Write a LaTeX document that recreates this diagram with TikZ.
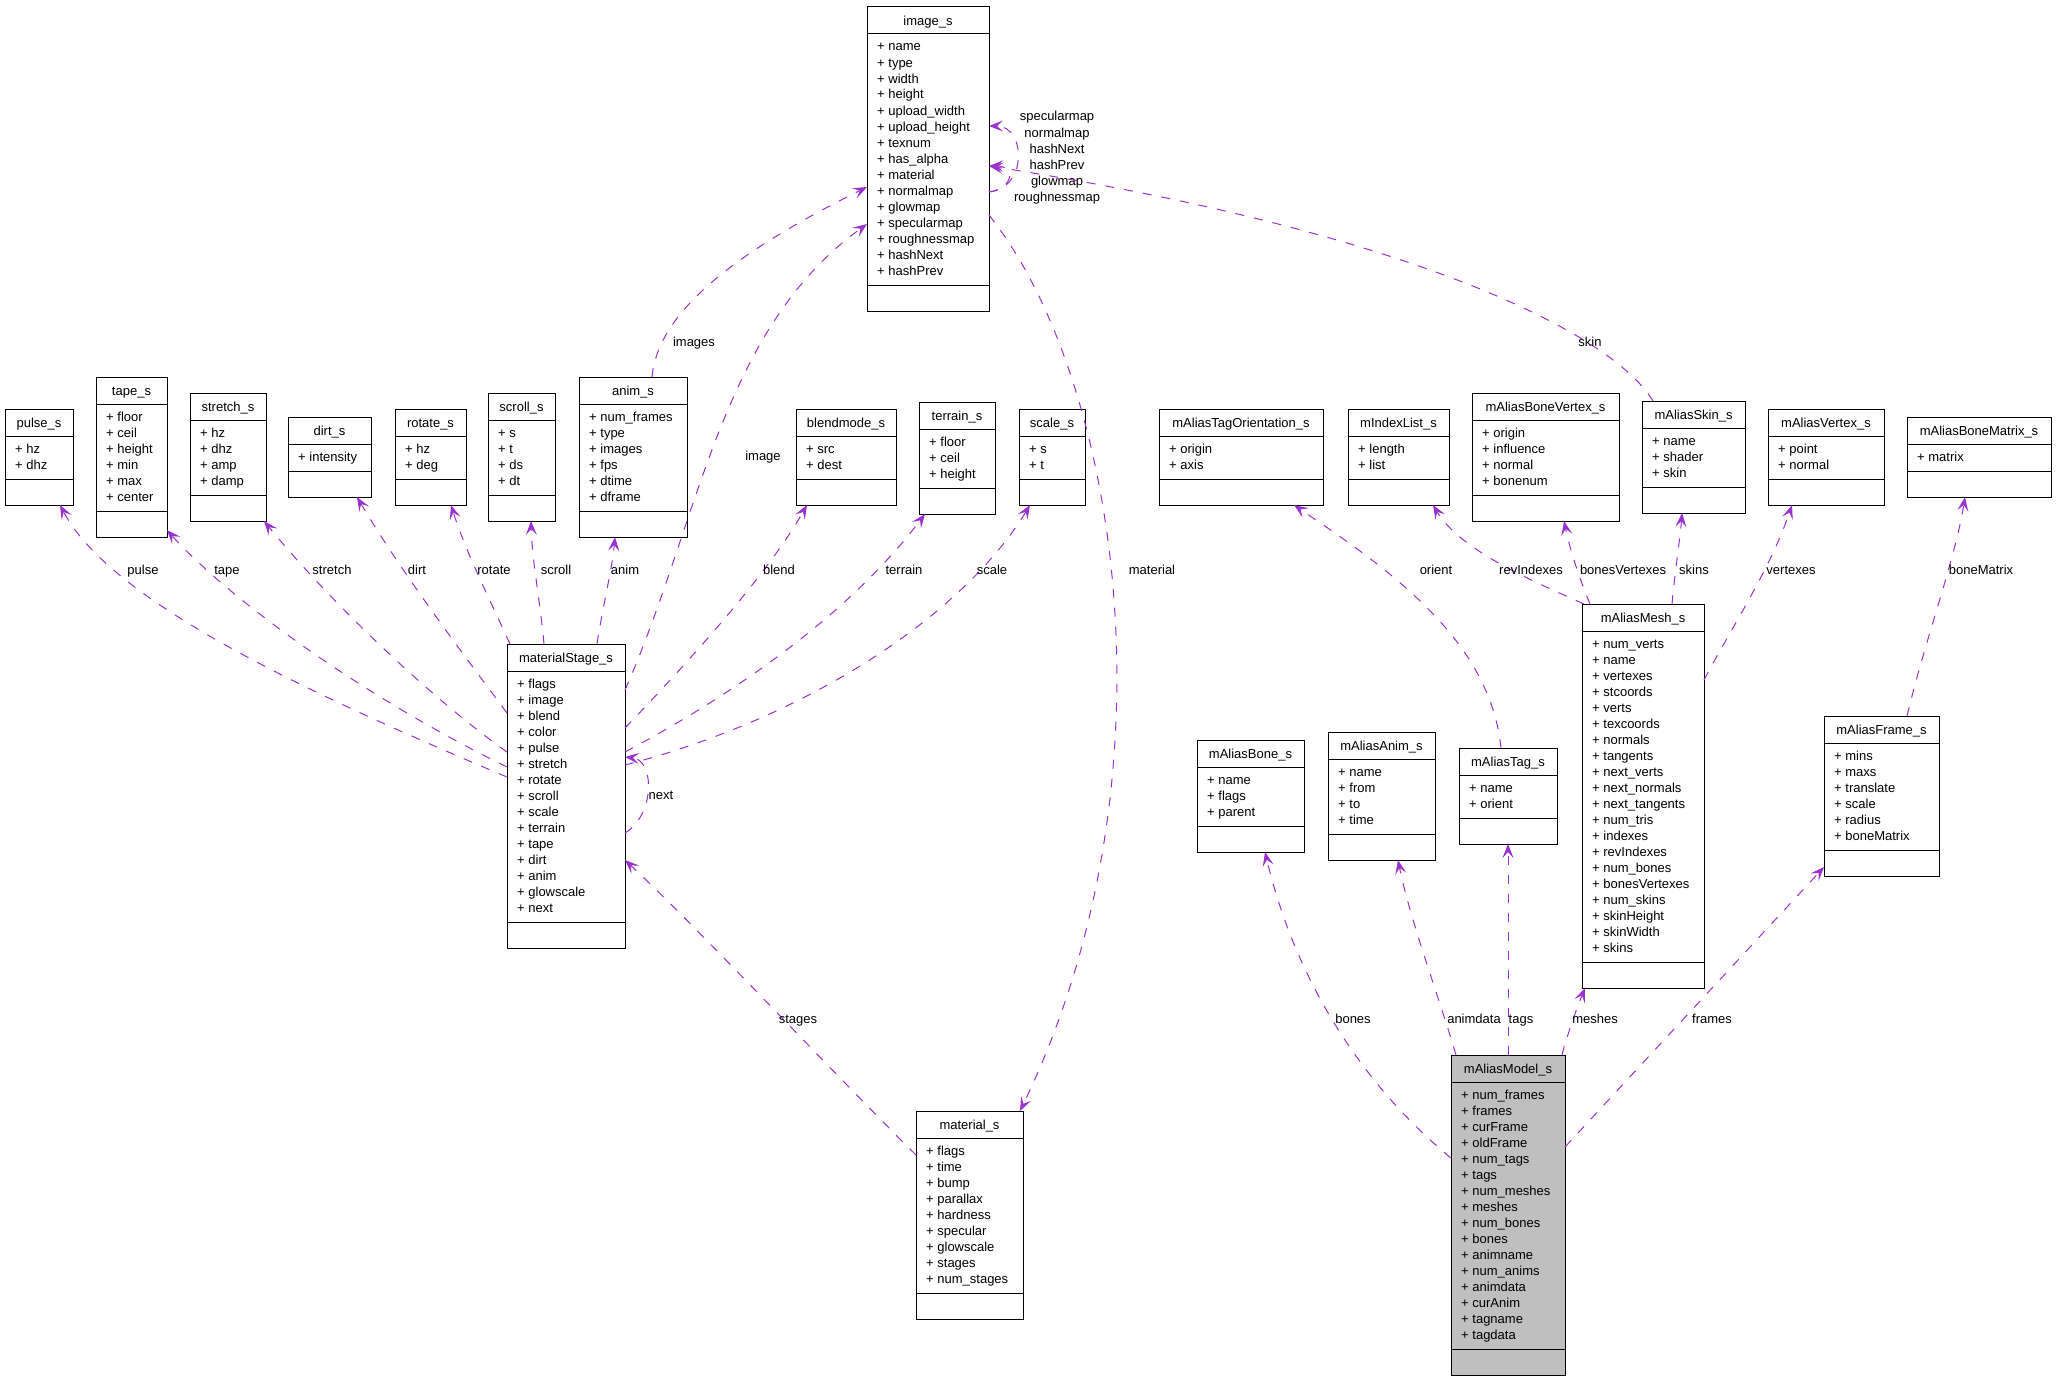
\documentclass[tikz,border=0pt]{standalone}
\usepackage{fontspec}
\setmainfont{Liberation Sans}
\usetikzlibrary{arrows.meta}
\definecolor{relcol}{HTML}{9A32CD}
\definecolor{modelgray}{HTML}{BFBFBF}
\tikzset{
  classbox/.style={draw=black, line width=1pt, inner sep=0pt, outer sep=0pt, anchor=north west},
  sepline/.style={draw=black, line width=1pt},
  lbl/.style={font=\fontsize{13}{16}\selectfont, inner sep=0pt},
  rel/.style={draw=relcol, line width=1pt, dash pattern=on 9pt off 10pt,
    -{Stealth[length=14pt,width=11pt,inset=6pt,fill=relcol]}},
  elabel/.style={font=\fontsize{13}{16}\selectfont, inner sep=0pt, text height=9pt, text depth=3pt},
}
% #1 extra style, #2 id, #3 left, #4 top, #5 width, #6 nrows, #7 title, #8 rows
\newcommand\umlclass[8][]{%
  \node[classbox, #1, minimum width=#5pt, minimum height={(64+16*#6)*1pt}] (#2) at (#3,#4) {};
  \draw[sepline] ([yshift=-27pt]#2.north west) -- ([yshift=-27pt]#2.north east);
  \draw[sepline] ([yshift=26pt]#2.south west) -- ([yshift=26pt]#2.south east);
  \node[lbl, anchor=base] (#2-t) at ([yshift=-18.5pt]#2.north) {#7};
  \foreach \r [count=\i from 0] in {#8} {
    \node[lbl, anchor=base west] (#2-r\i) at ([xshift=10pt, yshift={-(44+16*\i)*1pt}]#2.north west) {+ \r};
  }%
}
\begin{document}
\begin{tikzpicture}[x=1pt, y=-1pt]
\useasboundingbox (0,0) rectangle (2056,1381);

% ---------- classes ----------
\umlclass{image}{867}{7}{122}{15}{image\_s}{name,type,width,height,upload\_width,upload\_height,texnum,has\_alpha,material,normalmap,glowmap,specularmap,roughnessmap,hashNext,hashPrev}
\umlclass{pulse}{5}{409}{68}{2}{pulse\_s}{hz,dhz}
\umlclass{tape}{96}{377}{71}{6}{tape\_s}{floor,ceil,height,min,max,center}
\umlclass{stretch}{190}{393}{76}{4}{stretch\_s}{hz,dhz,amp,damp}
\umlclass{dirt}{288}{417}{83}{1}{dirt\_s}{intensity}
\umlclass{rotate}{395}{409}{71}{2}{rotate\_s}{hz,deg}
\umlclass{scroll}{488}{393}{67}{4}{scroll\_s}{s,t,ds,dt}
\umlclass{anim}{579}{377}{108}{6}{anim\_s}{num\_frames,type,images,fps,dtime,dframe}
\umlclass{blend}{796}{409}{100}{2}{blendmode\_s}{src,dest}
\umlclass{terrain}{919}{402}{76}{3}{terrain\_s}{floor,ceil,height}
\umlclass{scale}{1019}{409}{66}{2}{scale\_s}{s,t}
\umlclass{tagor}{1159}{409}{164}{2}{mAliasTagOrientation\_s}{origin,axis}
\umlclass{idxlist}{1348}{409}{101}{2}{mIndexList\_s}{length,list}
\umlclass{bonevtx}{1472}{393}{147}{4}{mAliasBoneVertex\_s}{origin,influence,normal,bonenum}
\umlclass{skin}{1642}{401}{103}{3}{mAliasSkin\_s}{name,shader,skin}
\umlclass{vertex}{1768}{409}{116}{2}{mAliasVertex\_s}{point,normal}
\umlclass{bonemat}{1907}{417}{144}{1}{mAliasBoneMatrix\_s}{matrix}
\umlclass{ms}{507}{644}{118}{15}{materialStage\_s}{flags,image,blend,color,pulse,stretch,rotate,scroll,scale,terrain,tape,dirt,anim,glowscale,next}
\umlclass{material}{916}{1111}{107}{9}{material\_s}{flags,time,bump,parallax,hardness,specular,glowscale,stages,num\_stages}
\umlclass{bone}{1197}{740}{107}{3}{mAliasBone\_s}{name,flags,parent}
\umlclass{animm}{1328}{732}{107}{4}{mAliasAnim\_s}{name,from,to,time}
\umlclass{tag}{1459}{748}{98}{2}{mAliasTag\_s}{name,orient}
\umlclass{mesh}{1582}{604}{122}{20}{mAliasMesh\_s}{num\_verts,name,vertexes,stcoords,verts,texcoords,normals,tangents,next\_verts,next\_normals,next\_tangents,num\_tris,indexes,revIndexes,num\_bones,bonesVertexes,num\_skins,skinHeight,skinWidth,skins}
\umlclass{frame}{1824}{716}{115}{6}{mAliasFrame\_s}{mins,maxs,translate,scale,radius,boneMatrix}
\umlclass[fill=modelgray]{model}{1451}{1055}{114}{16}{mAliasModel\_s}{num\_frames,frames,curFrame,oldFrame,num\_tags,tags,num\_meshes,meshes,num\_bones,bones,animname,num\_anims,animdata,curAnim,tagname,tagdata}

% ---------- relations: materialStage_s ----------
\draw[rel] ([yshift=-133pt]ms.north west) .. controls (300,690) and (110,600) .. ([xshift=55pt]pulse.south west);
\draw[rel] ([yshift=-123pt]ms.north west) .. controls (350,690) and (220,590) .. ([yshift=7pt]tape.south east);
\draw[rel] ([yshift=-108pt]ms.north west) .. controls (420,690) and (320,590) .. ([xshift=-2pt]stretch.south east);
\draw[rel] ([yshift=-69pt]ms.north west) .. controls (460,650) and (400,570) .. ([xshift=69pt]dirt.south west);
\draw[rel] ([xshift=3pt]ms.north west) .. controls (490,600) and (465,550) .. ([xshift=56pt]rotate.south west);
\draw[rel] ([xshift=37pt]ms.north west) .. controls (540,600) and (532,560) .. ([xshift=43pt]scroll.south west);
\draw[rel] ([xshift=90pt]ms.north west) .. controls (602,610) and (612,570) .. ([xshift=36pt]anim.south west);
\draw[rel] ([yshift=-46pt]ms.north east) .. controls (700,520) and (720,330) .. ([yshift=-217pt]image.north west);
\draw[rel] ([yshift=-84pt]ms.north east) .. controls (700,650) and (770,570) .. ([xshift=11pt]blend.south west);
\draw[rel] ([yshift=-108pt]ms.north east) .. controls (760,680) and (860,600) .. ([xshift=6pt]terrain.south west);
\draw[rel] ([yshift=-121pt]ms.north east) .. controls (800,720) and (960,620) .. ([xshift=11pt]scale.south west);
\draw[rel] ([yshift=-189pt]ms.north east) .. controls (655,815) and (655,760) .. ([yshift=-113pt]ms.north east);

\node[elabel] (l-pulse) at (143,571) {pulse};
\node[elabel] (l-tape) at (227,571) {tape};
\node[elabel] (l-stretch) at (332,571) {stretch};
\node[elabel] (l-dirt) at (417,571) {dirt};
\node[elabel] (l-rotate) at (494,571) {rotate};
\node[elabel] (l-scroll) at (556,571) {scroll};
\node[elabel] (l-anim) at (625,571) {anim};
\node[elabel] (l-image) at (763,457) {image};
\node[elabel] (l-blend) at (779,571) {blend};
\node[elabel] (l-terrain) at (904,571) {terrain};
\node[elabel] (l-scale) at (992,571) {scale};
\node[elabel] (l-next) at (661,796) {next};

% ---------- relations: image_s / material_s ----------
\draw[rel] ([xshift=73pt]anim.north west) .. controls (658,310) and (740,250) .. ([yshift=-180pt]image.north west);
\node[elabel] (l-images) at (694,343) {images};
\draw[rel] ([yshift=-185pt]image.north east) .. controls (1028,188) and (1026,126) .. ([yshift=-119pt]image.north east);
\draw[rel] ([yshift=-185pt]image.north east) .. controls (1014,188) and (1016,166) .. ([yshift=-159pt]image.north east);
\node[elabel] (l-self1) at (1057,118) {specularmap};
\node[elabel] (l-self2) at (1057,134) {normalmap};
\node[elabel] (l-self3) at (1057,150) {hashNext};
\node[elabel] (l-self4) at (1057,166) {hashPrev};
\node[elabel] (l-self5) at (1057,182) {glowmap};
\node[elabel] (l-self6) at (1057,198) {roughnessmap};
\draw[rel] ([yshift=-208pt]image.north east) .. controls (1120,380) and (1180,780) .. ([xshift=-3pt]material.north east);
\node[elabel] (l-material) at (1152,571) {material};
\draw[rel] ([yshift=-44pt]material.north west) .. controls (840,1080) and (700,930) .. ([yshift=-216pt]ms.north east);
\node[elabel] (l-stages) at (798,1020) {stages};
\draw[rel] ([xshift=11pt]skin.north west) .. controls (1610,330) and (1400,230) .. ([yshift=-159pt]image.north east);
\node[elabel] (l-skin) at (1590,343) {skin};

% ---------- relations: mAlias ----------
\draw[rel] ([xshift=42pt]tag.north west) .. controls (1490,640) and (1390,570) .. ([xshift=135pt]tagor.south west);
\node[elabel] (l-orient) at (1436,571) {orient};
\draw[rel] ([xshift=2pt]mesh.north west) .. controls (1530,580) and (1460,550) .. ([xshift=85pt]idxlist.south west);
\node[elabel] (l-rev) at (1531,571) {revIndexes};
\draw[rel] ([xshift=8pt]mesh.north west) .. controls (1580,580) and (1570,550) .. ([xshift=92pt]bonevtx.south west);
\node[elabel] (l-bv) at (1623,571) {bonesVertexes};
\draw[rel] ([xshift=90pt]mesh.north west) .. controls (1675,570) and (1680,540) .. ([xshift=40pt]skin.south west);
\node[elabel] (l-skins) at (1694,571) {skins};
\draw[rel] ([yshift=-76pt]mesh.north east) .. controls (1730,630) and (1770,570) .. ([xshift=24pt]vertex.south west);
\node[elabel] (l-vertexes) at (1791,571) {vertexes};
\draw[rel] ([xshift=83pt]frame.north west) .. controls (1925,640) and (1955,560) .. ([xshift=58pt]bonemat.south west);
\node[elabel] (l-bm) at (1981,571) {boneMatrix};

\draw[rel] ([yshift=-103pt]model.north west) .. controls (1380,1100) and (1300,1000) .. ([xshift=68pt]bone.south west);
\node[elabel] (l-bones) at (1353,1020) {bones};
\draw[rel] ([xshift=5pt]model.north west) .. controls (1440,1000) and (1410,920) .. ([xshift=70pt]animm.south west);
\node[elabel] (l-animdata) at (1474,1020) {animdata};
\draw[rel] ([xshift=57pt]model.north west) -- ([xshift=49pt]tag.south west);
\node[elabel] (l-tags) at (1521,1020) {tags};
\draw[rel] ([xshift=-3pt]model.north east) .. controls (1567,1035) and (1578,1005) .. ([xshift=3pt]mesh.south west);
\node[elabel] (l-meshes) at (1595,1020) {meshes};
\draw[rel] ([yshift=-92pt]model.north east) -- ([yshift=9pt]frame.south west);
\node[elabel] (l-frames) at (1712,1020) {frames};
\end{tikzpicture}
\end{document}
